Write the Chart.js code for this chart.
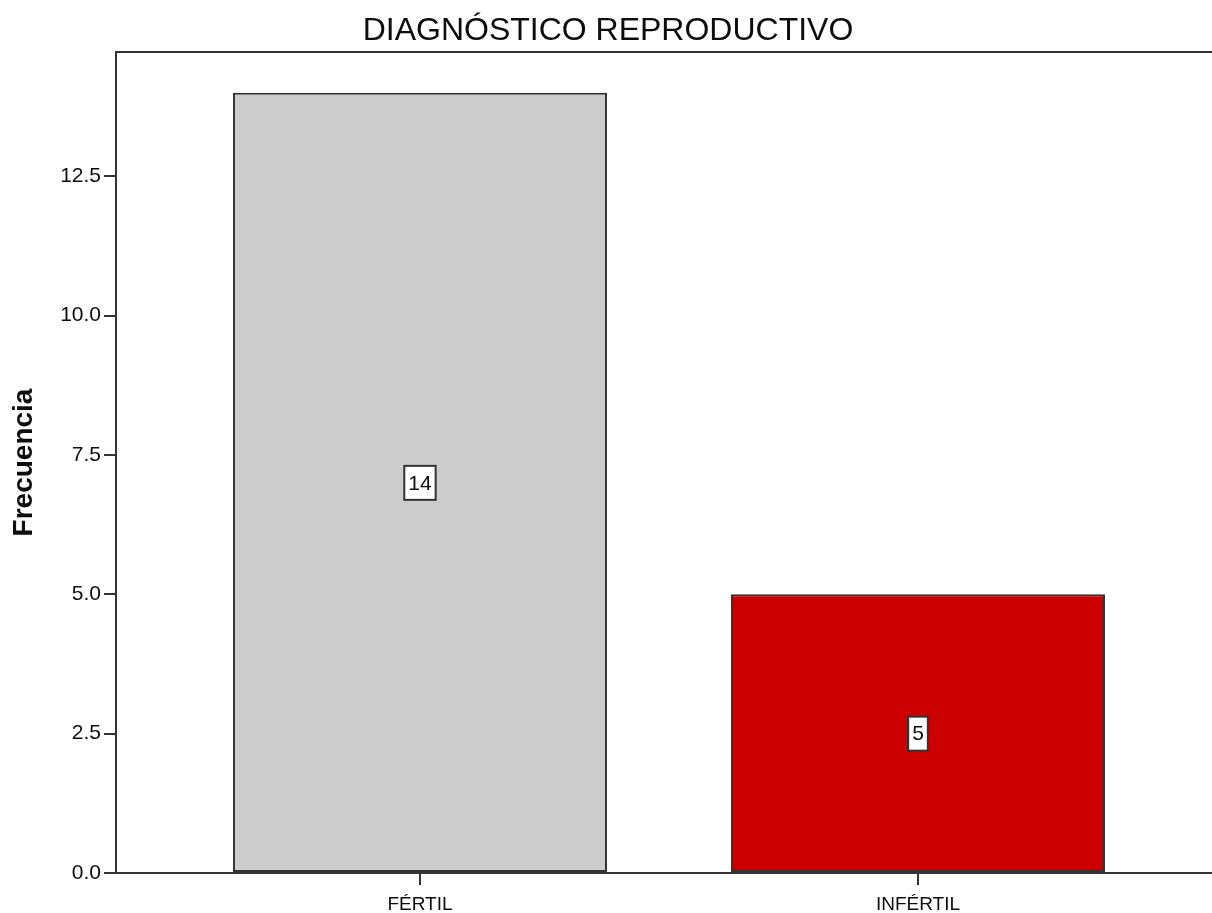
<!DOCTYPE html>
<html lang="es">
<head>
<meta charset="utf-8">
<title>DIAGNÓSTICO REPRODUCTIVO</title>
<script src="https://cdn.jsdelivr.net/npm/chart.js@4.4.1/dist/chart.umd.min.js"></script>
<style>
  html, body { margin: 0; padding: 0; background: #ffffff; overflow: hidden; }
  #wrap { position: relative; width: 1216px; height: 913px; }
</style>
</head>
<body>
<div id="wrap"><canvas id="chart"></canvas></div>
<script>
// Frequency of each reproductive diagnosis
const categories = ['FÉRTIL', 'INFÉRTIL'];
const frecuencia = [14, 5];
const barColors = ['#cccccc', '#cc0000'];
const yTickStep = 2.5;
const yMax = 14.73;
const chartTitle = 'DIAGNÓSTICO REPRODUCTIVO';
const yTitle = 'Frecuencia';

const FONT = "'Liberation Sans', Arial, Helvetica, sans-serif";
const INK = '#0d0d0d';
const LINE = '#333333';

// Frame line along the top of the plot area
const framePlugin = {
  id: 'frameTop',
  afterDraw(chart) {
    const { ctx, chartArea } = chart;
    ctx.save();
    ctx.strokeStyle = LINE;
    ctx.lineWidth = 2;
    ctx.beginPath();
    ctx.moveTo(chartArea.left - 1, chartArea.top);
    ctx.lineTo(chartArea.right, chartArea.top);
    ctx.stroke();
    ctx.restore();
  }
};

// Boxed value label in the middle of each bar
const valueBoxPlugin = {
  id: 'valueBox',
  afterDatasetsDraw(chart) {
    const { ctx } = chart;
    const yScale = chart.scales.y;
    const meta = chart.getDatasetMeta(0);
    ctx.save();
    ctx.font = '21px ' + FONT;
    ctx.textAlign = 'center';
    ctx.textBaseline = 'middle';
    meta.data.forEach((bar, i) => {
      const v = frecuencia[i];
      const text = String(v);
      const cx = bar.x;
      const cy = yScale.getPixelForValue(v / 2);
      const w = ctx.measureText(text).width + 8;
      const h = 34;
      ctx.fillStyle = '#ffffff';
      ctx.fillRect(cx - w / 2, cy - h / 2, w, h);
      ctx.strokeStyle = LINE;
      ctx.lineWidth = 2;
      ctx.strokeRect(cx - w / 2, cy - h / 2, w, h);
      ctx.fillStyle = INK;
      ctx.fillText(text, cx, cy + 1);
    });
    ctx.restore();
  }
};

new Chart(document.getElementById('chart'), {
  type: 'bar',
  data: {
    datasets: [{
      data: categories.map((c, i) => ({ x: i + 1, y: frecuencia[i] })),
      backgroundColor: barColors,
      borderColor: LINE,
      borderWidth: 2,
      borderSkipped: false,
      barPercentage: 0.751,
      categoryPercentage: 1
    }]
  },
  options: {
    responsive: true,
    maintainAspectRatio: false,
    animation: false,
    layout: { padding: 0 },
    plugins: {
      legend: { display: false },
      tooltip: { enabled: false },
      title: {
        display: true,
        text: chartTitle,
        color: INK,
        font: { family: FONT, size: 32, weight: 'normal', lineHeight: 1 },
        padding: { top: 15, bottom: 5 }
      }
    },
    scales: {
      x: {
        type: 'linear',
        offset: false,
        min: 0.3896,
        max: 2.5984,
        afterBuildTicks(scale) {
          scale.ticks = categories.map((c, i) => ({ value: i + 1 }));
        },
        afterFit(scale) { scale.height = 40; },
        ticks: {
          autoSkip: false,
          maxRotation: 0,
          color: INK,
          padding: 8,
          font: { family: FONT, size: 19 },
          callback: (v) => categories[Math.round(v) - 1] || ''
        },
        grid: { offset: false, drawOnChartArea: false, drawTicks: true, tickLength: 12, color: LINE, lineWidth: 2 },
        border: { display: true, color: LINE, width: 2 }
      },
      y: {
        min: 0,
        max: yMax,
        afterFit(scale) { scale.width = 116; },
        ticks: {
          stepSize: yTickStep,
          includeBounds: false,
          color: INK,
          padding: 3,
          font: { family: FONT, size: 21 },
          callback: (v) => Number(v).toFixed(1)
        },
        grid: { drawOnChartArea: false, drawTicks: true, tickLength: 12, color: LINE, lineWidth: 2 },
        border: { display: true, color: LINE, width: 2 },
        title: {
          display: true,
          text: yTitle,
          color: INK,
          font: { family: FONT, size: 28, weight: 'bold', lineHeight: 1.2 },
          padding: { top: 7, bottom: 0 }
        }
      }
    }
  },
  plugins: [framePlugin, valueBoxPlugin]
});
</script>
</body>
</html>
